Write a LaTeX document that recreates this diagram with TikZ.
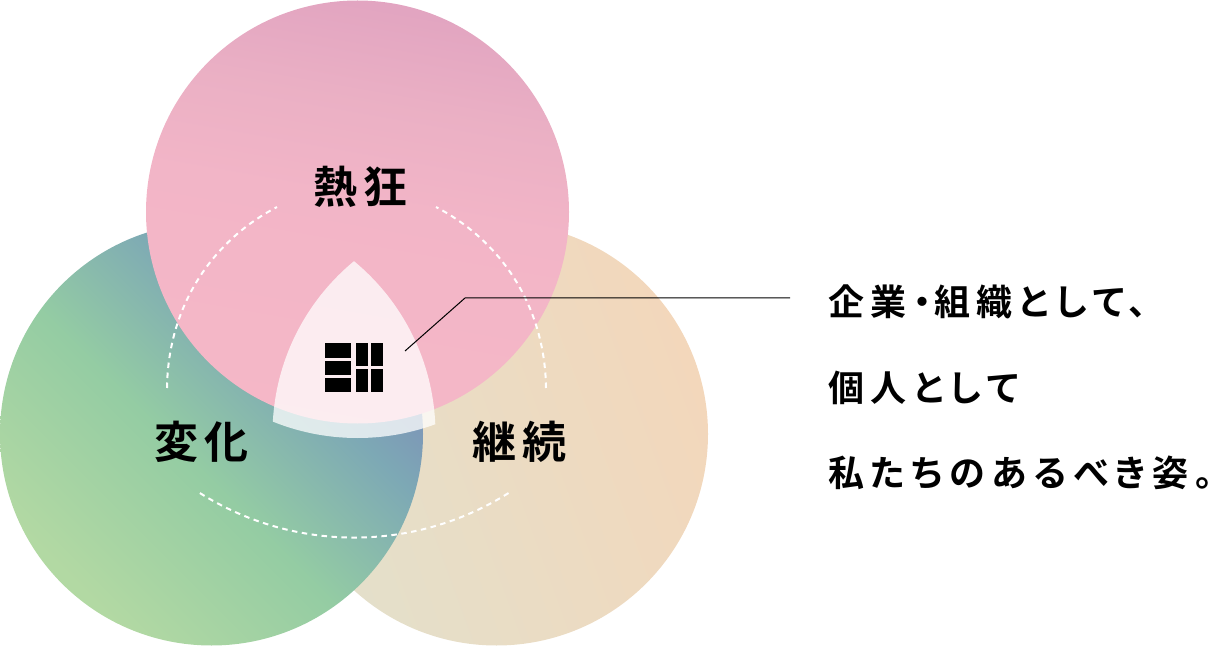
\documentclass[tikz,border=0pt]{standalone}
\usepackage{fontspec}
\usetikzlibrary{positioning}
\newfontfamily\cjk[BoldFont={Noto Sans CJK JP Bold},RawFeature={+palt}]{Noto Sans CJK JP}
\definecolor{beigeA}{HTML}{E3E0CB}
\definecolor{beigeB}{HTML}{F3D7BB}
\pgfdeclarehorizontalshading{greenshade}{100bp}{
  rgb(0bp)=(0.70,0.85,0.64);
  rgb(26bp)=(0.70,0.85,0.64);
  rgb(46bp)=(0.58,0.80,0.64);
  rgb(55bp)=(0.53,0.72,0.68);
  rgb(62bp)=(0.49,0.66,0.71);
  rgb(70bp)=(0.49,0.58,0.72);
  rgb(100bp)=(0.49,0.58,0.72)}
\pgfdeclareverticalshading{pinkshade}{100bp}{
  rgb(0bp)=(0.96,0.72,0.78);
  rgb(25bp)=(0.96,0.72,0.78);
  rgb(51bp)=(0.95,0.71,0.78);
  rgb(63bp)=(0.92,0.69,0.77);
  rgb(75bp)=(0.885,0.645,0.755);
  rgb(100bp)=(0.885,0.645,0.755)}
\begin{document}
\begin{tikzpicture}[x=1pt,y=1pt]
\tikzset{
  disc/.style     = {circle, minimum size=423pt, inner sep=0pt, outer sep=0pt},
  keyword/.style  = {font=\cjk\bfseries\fontsize{44}{44}\selectfont\addfontfeature{LetterSpace=12}, inner sep=0pt},
  sentence/.style = {font=\cjk\bfseries\fontsize{36}{36}\selectfont\addfontfeature{LetterSpace=18}, inner sep=0pt, anchor=west},
  orbit/.style    = {white, line width=2pt, dash pattern=on 5.5pt off 4.5pt},
  tile/.style     = {fill=black}
}
\useasboundingbox (0,0) rectangle (1212,646);
% circles
\node[disc, left color=beigeA, right color=beigeB, shading angle=110] (beige) at (496.5,212) {};
\node[disc, shading=greenshade, shading angle=45] (green) at (211.5,212) {};
\node[disc, shading=pinkshade, shading angle=-10] (pink) at (357.5,434) {};
% centre wedge
\begin{scope}
  \clip (green.center) circle (224);
  \clip (beige.center) circle (224);
  \fill[white, opacity=0.75] (pink.center) circle (226);
\end{scope}
% dashed orbit
\draw[orbit] (354.2,398) ++(237.8:289.6) arc (237.8:302.2:289.6);
\draw[orbit] (167,258) .. controls (168,340) and (212,405) .. (277,439);
\draw[orbit] (546,258) .. controls (545,340) and (501,405) .. (436,439);
% logo
\foreach \a/\b in {302.7/288.3, 285.3/271.3, 268.3/253.7}
  \fill[tile] (325.3,\a) rectangle (351.3,\b);
\foreach \x/\y in {356.3/367.7, 371.3/383} {
  \fill[tile] (\x,302.7) rectangle (\y,280);
  \fill[tile] (\x,276.7) rectangle (\y,253.7);
}
% labels
\node[keyword] (passion) at (358,459) {熱狂\kern-5pt};
\node[keyword] (change) at (199,204) {変化\kern-5pt};
\node[keyword] (keep) at (517,204) {継続\kern-5pt};
\node[sentence] (line1) at (828,344) {企業・\kern3pt 組織として、\kern-6pt};
\node[sentence] (line2) at (828,258) {個人として\kern-6pt};
\node[sentence] (line3) at (828,173) {私たちのあるべき姿。\kern-6pt};
% leader
\coordinate (tip) at (405,295);
\coordinate (bend) at (465,348);
\coordinate (tail) at (790,348);
\draw[line width=1pt] (tail) -- (bend) -- (tip);
\end{tikzpicture}
\end{document}
